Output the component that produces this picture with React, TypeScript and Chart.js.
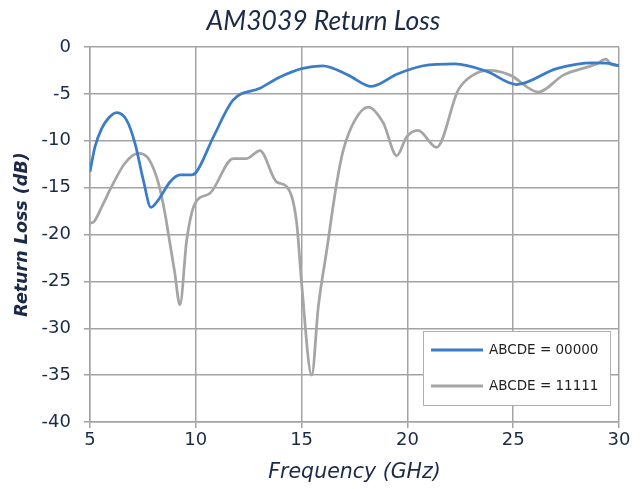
import { useEffect, useRef } from "react";
import { Chart, registerables } from "chart.js";

Chart.register(...registerables);

const chartTitle = "AM3039 Return Loss";
const xTitle = "Frequency (GHz)";
const yTitle = "Return Loss (dB)";
const seriesNames = ["ABCDE = 00000", "ABCDE = 11111"];

const freq00000 = [5.0, 5.24, 5.55, 5.87, 6.26, 6.73, 7.13, 7.52, 7.88, 8.23, 8.78, 9.25, 9.8, 10.04, 10.83, 11.77, 13.03, 13.98, 15.0, 16.0, 17.2, 18.3, 19.5, 20.75, 22.25, 23.75, 25.16, 27.05, 28.8, 29.5, 30.0];
const loss00000 = [-13.3, -10.6, -8.7, -7.6, -7.0, -7.8, -10.3, -14.2, -17.1, -16.3, -14.4, -13.65, -13.65, -13.3, -9.6, -5.65, -4.4, -3.2, -2.3, -2.0, -3.0, -4.2, -2.9, -2.0, -1.8, -2.6, -4.0, -2.3, -1.7, -1.75, -2.0];

const freq11111 = [5.0, 5.2, 5.63, 6.02, 6.65, 7.28, 7.76, 8.23, 8.54, 8.73, 9.0, 9.25, 9.57, 9.96, 10.67, 11.77, 12.4, 13.03, 13.82, 14.3, 14.77, 15.0, 15.48, 15.79, 16.19, 16.66, 16.97, 17.52, 18.15, 18.86, 19.5, 19.96, 20.5, 21.38, 22.4, 23.1, 23.9, 24.85, 26.19, 27.37, 28.94, 29.38, 29.65, 30.0];
const loss11111 = [-18.8, -18.6, -16.7, -14.9, -12.4, -11.35, -11.9, -14.5, -17.7, -20.3, -24.0, -27.5, -20.6, -16.7, -15.6, -11.9, -11.9, -11.05, -14.4, -14.9, -18.8, -25.2, -35.0, -27.7, -21.65, -14.5, -11.0, -7.8, -6.4, -8.1, -11.6, -9.6, -8.9, -10.7, -4.6, -3.0, -2.5, -3.0, -4.8, -3.0, -1.8, -1.3, -1.9, -2.0];

const xTicks = [5, 10, 15, 20, 25, 30];
const yTicks = [0, -5, -10, -15, -20, -25, -30, -35, -40];

const TEXT = "#1B2A47";
const GRID = "#A3A3A3";
const COLORS = ["#3A7CC8", "#A5A5A5"];
const TITLE_FONT = "Lato";
const FONT = "'DejaVu Sans'";

const canvasTitle = {
  id: "canvasTitle",
  afterDraw(chart: any) {
    const { ctx, width } = chart;
    ctx.save();
    ctx.fillStyle = TEXT;
    ctx.font = `italic 26.5px ${TITLE_FONT}`;
    ctx.textAlign = "center";
    ctx.textBaseline = "middle";
    ctx.fillText(chartTitle, width / 2 + 3.5, 21);
    ctx.restore();
  },
};

const insideLegend = {
  id: "insideLegend",
  afterDraw(chart: any) {
    const { ctx, chartArea } = chart;
    const w = 187;
    const h = 74;
    const x = chartArea.right - 9 - w;
    const y = chartArea.bottom - 17 - h;
    ctx.save();
    ctx.fillStyle = "#ffffff";
    ctx.fillRect(x, y, w, h);
    ctx.strokeStyle = "#B0B0B0";
    ctx.lineWidth = 1;
    ctx.strokeRect(x + 0.5, y + 0.5, w, h);
    chart.data.datasets.forEach((ds: any, i: number) => {
      const ly = y + 19 + i * 36;
      ctx.strokeStyle = ds.borderColor;
      ctx.lineWidth = 3;
      ctx.beginPath();
      ctx.moveTo(x + 8, ly);
      ctx.lineTo(x + 60, ly);
      ctx.stroke();
      ctx.fillStyle = "#1f1f1f";
      ctx.font = `13.5px ${FONT}`;
      ctx.textBaseline = "middle";
      ctx.textAlign = "left";
      ctx.fillText(ds.label, x + 66, ly);
    });
    ctx.restore();
  },
};

export default function App() {
  const ref = useRef<HTMLCanvasElement | null>(null);

  useEffect(() => {
    document.body.style.margin = "0";
    const canvas = ref.current;
    if (!canvas) return;
    const chart = new Chart(canvas, {
      type: "line",
      data: {
        datasets: [
          {
            label: seriesNames[0],
            data: freq00000.map((f, i) => ({ x: f, y: loss00000[i] })),
            borderColor: COLORS[0],
            backgroundColor: COLORS[0],
            borderWidth: 2.75,
            pointRadius: 0,
            cubicInterpolationMode: "monotone",
          },
          {
            label: seriesNames[1],
            data: freq11111.map((f, i) => ({ x: f, y: loss11111[i] })),
            borderColor: COLORS[1],
            backgroundColor: COLORS[1],
            borderWidth: 2.75,
            pointRadius: 0,
            cubicInterpolationMode: "monotone",
          },
        ],
      },
      options: {
        responsive: false,
        animation: false,
        layout: { padding: { left: 0, right: 21, top: 47, bottom: 0 } },
        plugins: {
          legend: { display: false },
          tooltip: { enabled: false },
          title: { display: false },
        },
        scales: {
          x: {
            type: "linear",
            min: 5,
            max: 30,
            afterBuildTicks: (s: any) => {
              s.ticks = xTicks.map((v) => ({ value: v }));
            },
            afterFit: (s: any) => {
              s.height = 67;
            },
            ticks: {
              color: TEXT,
              font: { family: FONT, size: 18 },
              padding: 2,
              maxRotation: 0,
            },
            grid: { color: GRID, lineWidth: 1.5, tickLength: 6 },
            border: { color: GRID, width: 1.5 },
            title: {
              display: true,
              text: xTitle,
              color: TEXT,
              font: { family: FONT, size: 20.5, style: "italic" },
              padding: { top: 0, bottom: 4 },
            },
          },
          y: {
            type: "linear",
            min: -40,
            max: 0,
            afterBuildTicks: (s: any) => {
              s.ticks = yTicks.map((v) => ({ value: v }));
            },
            afterFit: (s: any) => {
              s.width = 90;
            },
            ticks: {
              color: TEXT,
              font: { family: FONT, size: 18 },
              padding: 13,
            },
            grid: { color: GRID, lineWidth: 1.5, tickLength: 6 },
            border: { color: GRID, width: 1.5 },
            title: {
              display: true,
              text: yTitle,
              color: TEXT,
              font: { family: FONT, size: 17.5, style: "italic", weight: "bold" },
              padding: { top: 12, bottom: 0 },
            },
          },
        },
      },
      plugins: [insideLegend, canvasTitle],
    });
    return () => chart.destroy();
  }, []);

  return (
    <div style={{ width: 640, height: 489 }}>
      <canvas ref={ref} width={640} height={489} style={{ display: "block" }} />
    </div>
  );
}
